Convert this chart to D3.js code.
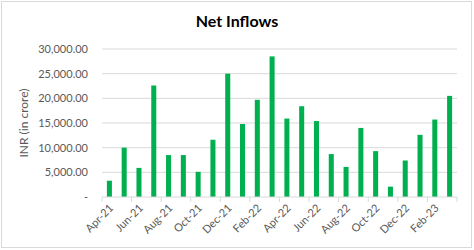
<!DOCTYPE html>
<html>
<head>
<meta charset="utf-8">
<script src="https://cdn.jsdelivr.net/npm/d3@7"></script>
<style>
  body { margin: 0; background: #fff; }
  text { font-family: Lato, "Open Sans", sans-serif; }
</style>
</head>
<body>
<div id="chart"></div>
<script>
/**
 * CONSTANTS AND GLOBALS
 * */
const width = 474,
  height = 250,
  margin = { top: 49, bottom: 53, left: 102, right: 17 };

// months Apr-21 .. Mar-23
const months = ["Apr-21", "May-21", "Jun-21", "Jul-21", "Aug-21", "Sep-21",
  "Oct-21", "Nov-21", "Dec-21", "Jan-22", "Feb-22", "Mar-22",
  "Apr-22", "May-22", "Jun-22", "Jul-22", "Aug-22", "Sep-22",
  "Oct-22", "Nov-22", "Dec-22", "Jan-23", "Feb-23", "Mar-23"];

// net inflows, INR crore
const inflows = [3300, 10000, 5900, 22600, 8500, 8500,
  5100, 11600, 25000, 14800, 19700, 28500,
  15900, 18400, 15400, 8700, 6100, 14000,
  9300, 2100, 7400, 12600, 15700, 20500];

const yTicks = [0, 5000, 10000, 15000, 20000, 25000, 30000];

/**
 * SVG
 * */
const svg = d3.select("#chart")
  .append("svg")
  .attr("width", width)
  .attr("height", height);

// chart frame
svg.append("rect")
  .attr("x", 1.5).attr("y", 1.5)
  .attr("width", width - 4).attr("height", height - 4)
  .attr("fill", "#fff")
  .attr("stroke", "#d9d9d9");

/* SCALES */
const x = d3.scaleBand()
  .domain(months)
  .range([margin.left, width - margin.right])
  .paddingInner(0.66)
  .paddingOuter(0.33);

const y = d3.scaleLinear()
  .domain([0, 30000])
  .range([height - margin.bottom, margin.top]);

// gridlines
svg.append("g")
  .selectAll("line")
  .data(yTicks.slice(1))
  .join("line")
  .attr("x1", margin.left)
  .attr("x2", width - margin.right)
  .attr("y1", d => y(d))
  .attr("y2", d => y(d))
  .attr("stroke", "#d9d9d9")
  .attr("stroke-width", 1);

// y labels
const fmt = d3.format(",.2f");
svg.append("g")
  .selectAll("text")
  .data(yTicks)
  .join("text")
  .attr("x", 88)
  .attr("y", d => y(d))
  .attr("dy", "0.35em")
  .attr("text-anchor", "end")
  .attr("font-size", 11)
  .attr("fill", "#595959")
  .text(d => d === 0 ? "-" : fmt(d));

// bars
svg.append("g")
  .selectAll("rect")
  .data(inflows)
  .join("rect")
  .attr("x", (d, i) => x(months[i]))
  .attr("y", d => y(d))
  .attr("width", x.bandwidth())
  .attr("height", d => y(0) - y(d))
  .attr("fill", "#00b050");

// x axis line + ticks every 2 months
const step = x.step();
const x0 = margin.left;
svg.append("line")
  .attr("x1", margin.left).attr("x2", width - margin.right)
  .attr("y1", y(0)).attr("y2", y(0))
  .attr("stroke", "#d9d9d9");

svg.append("g")
  .selectAll("line")
  .data(d3.range(0, months.length + 1, 2))
  .join("line")
  .attr("x1", i => x0 + i * step)
  .attr("x2", i => x0 + i * step)
  .attr("y1", y(0))
  .attr("y2", y(0) + 5)
  .attr("stroke", "#d9d9d9");

// x labels, every other month
svg.append("g")
  .selectAll("text")
  .data(months.filter((m, i) => i % 2 === 0))
  .join("text")
  .attr("transform", d => `translate(${x(d) + x.bandwidth() / 2 + 2},${y(0) + 9}) rotate(-45)`)
  .attr("text-anchor", "end")
  .attr("dy", "0.35em")
  .attr("font-size", 11)
  .attr("fill", "#595959")
  .text(d => d);

// y axis title
svg.append("text")
  .attr("transform", `translate(28,${(y(0) + y(30000)) / 2}) rotate(-90)`)
  .attr("text-anchor", "middle")
  .attr("font-size", 12)
  .attr("fill", "#595959")
  .text("INR (in crore)");

// title
svg.append("text")
  .attr("x", 237)
  .attr("y", 27)
  .attr("text-anchor", "middle")
  .attr("font-size", 16)
  .attr("font-weight", "bold")
  .attr("fill", "#000")
  .text("Net Inflows");
</script>
</body>
</html>
